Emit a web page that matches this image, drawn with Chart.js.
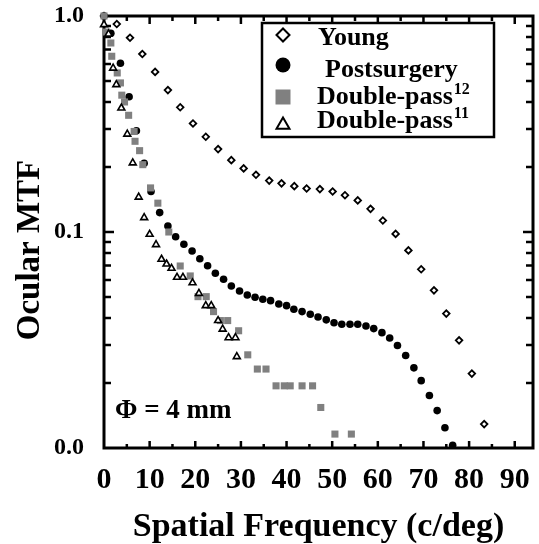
<!DOCTYPE html>
<html>
<head>
<meta charset="utf-8">
<script src="https://cdn.jsdelivr.net/npm/chart.js@4.4.0/dist/chart.umd.min.js"></script>
<style>
  html, body { margin: 0; padding: 0; background: #fff; }
  #wrap { width: 539px; height: 544px; }
</style>
</head>
<body>
<div id="wrap"><canvas id="chart"></canvas></div>
<script>
// Young eyes
const youngX = [0, 2.8, 5.7, 8.4, 11.2, 14.0, 16.7, 19.5, 22.3, 25.0, 27.9, 30.6, 33.3, 36.2, 38.9, 41.7,
  44.4, 47.3, 50.1, 52.8, 55.6, 58.4, 61.1, 63.9, 66.7, 69.5, 72.3, 75.0, 77.8, 80.6, 83.3];
const youngY = [1.0, 0.918, 0.793, 0.667, 0.551, 0.454, 0.378, 0.318, 0.276, 0.242, 0.215, 0.197, 0.184, 0.173,
  0.168, 0.163, 0.159, 0.158, 0.154, 0.148, 0.140, 0.128, 0.113, 0.098, 0.0822, 0.0672, 0.0537, 0.0419,
  0.0315, 0.0221, 0.0129];

// Postsurgery
const postX = [0, 1.5, 3.6, 5.5, 7.1, 8.8, 10.3, 12.2, 14.0, 15.7, 17.5, 19.3, 21.0, 22.7, 24.4, 26.2, 27.9,
  29.7, 31.4, 33.1, 34.8, 36.5, 38.3, 40.0, 41.6, 43.4, 45.2, 46.9, 48.7, 50.4, 52.1, 53.9, 55.6, 57.4, 59.1,
  60.9, 62.6, 64.3, 66.1, 67.9, 69.5, 71.3, 73.0, 74.7, 76.4];
const postY = [1.0, 0.832, 0.604, 0.423, 0.294, 0.208, 0.154, 0.123, 0.1066, 0.0951, 0.0877, 0.0817, 0.0752,
  0.0698, 0.0644, 0.0604, 0.0562, 0.0533, 0.0511, 0.0499, 0.0488, 0.0481, 0.0464, 0.0456, 0.0439, 0.0428,
  0.0416, 0.0404, 0.0392, 0.0380, 0.0374, 0.0374, 0.0374, 0.0367, 0.0357, 0.0342, 0.0323, 0.0298, 0.0268,
  0.0235, 0.0205, 0.0175, 0.0149, 0.0124, 0.0103];

// Double-pass (ref 12)
const dp12X = [0, 0.5, 1.5, 1.7, 2.9, 3.6, 3.9, 4.5, 5.4, 6.6, 6.8, 7.8, 8.5, 10.2, 11.8, 14.2, 16.7, 18.9,
  20.6, 22.4, 24.0, 25.5, 27.1, 29.5, 31.5, 33.6, 35.5, 37.7, 39.5, 40.8, 43.4, 45.7, 47.5, 50.6, 54.2];
const dp12Y = [1.0, 0.843, 0.750, 0.651, 0.545, 0.490, 0.430, 0.400, 0.347, 0.292, 0.263, 0.238, 0.205, 0.160,
  0.136, 0.100, 0.0696, 0.0626, 0.0502, 0.0502, 0.0428, 0.0389, 0.0389, 0.0349, 0.0270, 0.0232, 0.0232,
  0.0194, 0.0194, 0.0194, 0.0194, 0.0194, 0.0154, 0.0116, 0.0116];

// Double-pass (ref 11)
const dp11X = [0, 1.0, 2.0, 2.7, 3.8, 5.1, 6.3, 7.6, 8.8, 10.0, 11.4, 12.6, 13.7, 14.8, 16.0, 17.3, 19.4,
  20.8, 22.3, 23.5, 25.0, 26.0, 27.3, 28.8, 29.1];
const dp11Y = [0.912, 0.826, 0.574, 0.481, 0.375, 0.284, 0.209, 0.145, 0.1165, 0.0976, 0.0874, 0.0748, 0.0711,
  0.0679, 0.0617, 0.0617, 0.0582, 0.0520, 0.0456, 0.0456, 0.0389, 0.0355, 0.0324, 0.0324, 0.0265];

// Axis ticks
const xTickValues = [0, 10, 20, 30, 40, 50, 60, 70, 80, 90];
const yTickValues = [0.01, 0.1, 1];
const yTickLabels = ['0.0', '0.1', '1.0'];

// Legend text
const seriesNames = ['Young', 'Postsurgery', 'Double-pass', 'Double-pass'];
const seriesRefs = ['', '', '12', '11'];

const FONT = 'Liberation Serif';
const GRAY = '#808080';

function pts(xs, ys) {
    return xs.map((x, i) => ({ x: x, y: ys[i] }));
}

// Frame and inward tick marks
const framePlugin = {
    id: 'frame',
    beforeDatasetsDraw(chart) {
        const { ctx, chartArea: a, scales: { x, y } } = chart;
        ctx.save();
        ctx.strokeStyle = '#000';
        ctx.lineWidth = 3;
        ctx.strokeRect(a.left, a.top, a.right - a.left, a.bottom - a.top);
        ctx.lineWidth = 2.5;
        ctx.beginPath();
        for (let v = 5; v < 94; v += 5) {
            const px = x.getPixelForValue(v);
            const len = v % 10 === 0 ? 7 : 4;
            ctx.moveTo(px, a.bottom); ctx.lineTo(px, a.bottom - len);
            ctx.moveTo(px, a.top); ctx.lineTo(px, a.top + len + 1);
        }
        for (let d = 0.01; d < 1; d *= 10) {
            for (let m = 2; m <= 10; m++) {
                const v = d * m;
                if (v >= 1) continue;
                const py = y.getPixelForValue(v);
                const len = m === 10 ? 10 : 7;
                ctx.moveTo(a.left, py); ctx.lineTo(a.left + len, py);
                ctx.moveTo(a.right, py); ctx.lineTo(a.right - len, py);
            }
        }
        ctx.stroke();
        ctx.restore();
    },
    afterDraw(chart) {
        const { ctx } = chart;
        ctx.save();
        ctx.fillStyle = '#000';
        // y axis title
        ctx.translate(30, 250);
        ctx.rotate(-Math.PI / 2);
        ctx.font = 'bold 33px "' + FONT + '"';
        ctx.textAlign = 'center';
        ctx.textBaseline = 'middle';
        ctx.fillText('Ocular MTF', 0, 0);
        ctx.restore();

        ctx.save();
        ctx.fillStyle = '#000';
        ctx.font = 'bold 27px "' + FONT + '"';
        ctx.textBaseline = 'alphabetic';
        ctx.fillText('\u03A6 = 4 mm', 115, 418);
        ctx.restore();
    }
};

// Boxed legend in the upper right
const legendPlugin = {
    id: 'boxLegend',
    afterDraw(chart) {
        const { ctx } = chart;
        const sets = chart.data.datasets;
        const order = [3, 2, 1, 0];
        const markerY = [35, 65, 97, 125];
        const textX = [318, 325, 317, 317];
        const baseY = [45, 77, 104, 128];
        const sizes = [6.5, 7.5, 10.6, 7.5];
        ctx.save();
        ctx.strokeStyle = '#000';
        ctx.lineWidth = 2.5;
        ctx.fillStyle = '#fff';
        ctx.fillRect(262, 23, 232, 114);
        ctx.strokeRect(262, 23, 232, 114);
        order.forEach((di, i) => {
            const ds = sets[di];
            ctx.fillStyle = ds.backgroundColor;
            ctx.strokeStyle = ds.borderColor || ds.backgroundColor;
            ctx.lineWidth = ds.borderWidth ? 2 : 0;
            Chart.helpers.drawPoint(ctx, {
                pointStyle: ds.pointStyle, radius: sizes[i], rotation: 0,
                borderWidth: ds.borderWidth ? 2 : 0
            }, 283, markerY[i]);
            ctx.fillStyle = '#000';
            ctx.font = 'bold 26px "' + FONT + '"';
            ctx.textBaseline = 'alphabetic';
            ctx.textAlign = 'left';
            ctx.fillText(seriesNames[i], textX[i], baseY[i]);
            if (seriesRefs[i]) {
                const w = ctx.measureText(seriesNames[i]).width;
                ctx.font = 'bold 16px "' + FONT + '"';
                ctx.fillText(seriesRefs[i], textX[i] + w + 1, baseY[i] - 10);
            }
        });
        ctx.restore();
    }
};

const ctx = document.getElementById('chart').getContext('2d');
new Chart(ctx, {
    type: 'scatter',
    data: {
        datasets: [
            {
                label: 'Double-pass11', data: pts(dp11X, dp11Y), pointStyle: 'triangle',
                pointRadius: 4, borderWidth: 1.6, borderColor: '#000', backgroundColor: '#fff', order: 0
            },
            {
                label: 'Double-pass12', data: pts(dp12X, dp12Y), pointStyle: 'rect',
                pointRadius: 5, borderWidth: 0, borderColor: GRAY, backgroundColor: GRAY, order: 1
            },
            {
                label: 'Postsurgery', data: pts(postX, postY), pointStyle: 'circle',
                pointRadius: 3.8, borderWidth: 0, borderColor: '#000', backgroundColor: '#000', order: 2
            },
            {
                label: 'Young', data: pts(youngX, youngY), pointStyle: 'rectRot',
                pointRadius: 3.3, borderWidth: 1.8, borderColor: '#000', backgroundColor: '#fff', order: 3
            }
        ]
    },
    options: {
        responsive: true,
        maintainAspectRatio: false,
        animation: false,
        clip: false,
        layout: { padding: { left: 0, right: 6, top: 16, bottom: 0 } },
        plugins: {
            legend: { display: false },
            tooltip: { enabled: false }
        },
        scales: {
            x: {
                type: 'linear',
                min: 0,
                max: 94,
                afterFit: (s) => { s.height = 96; s.paddingLeft = 0; s.paddingRight = 0; },
                afterBuildTicks: (s) => { s.ticks = xTickValues.map(v => ({ value: v })); },
                ticks: {
                    color: '#000', padding: 14, maxRotation: 0, autoSkip: false,
                    font: { family: FONT, size: 30, weight: 'bold' }
                },
                grid: { display: false, drawTicks: false },
                border: { display: false },
                title: {
                    display: true,
                    text: 'Spatial Frequency (c/deg)',
                    color: '#000',
                    font: { family: FONT, size: 34, weight: 'bold', lineHeight: 1 },
                    padding: { top: 0, bottom: 0 }
                }
            },
            y: {
                type: 'logarithmic',
                min: 0.01,
                max: 1,
                afterFit: (s) => { s.width = 104; s.paddingTop = 0; s.paddingBottom = 0; },
                afterBuildTicks: (s) => { s.ticks = yTickValues.map(v => ({ value: v })); },
                ticks: {
                    color: '#000', padding: 20, autoSkip: false,
                    font: { family: FONT, size: 24, weight: 'bold' },
                    callback: function(value) {
                        const i = yTickValues.indexOf(value);
                        return i >= 0 ? yTickLabels[i] : '';
                    }
                },
                grid: { display: false, drawTicks: false },
                border: { display: false }
            }
        }
    },
    plugins: [framePlugin, legendPlugin]
});
</script>
</body>
</html>
